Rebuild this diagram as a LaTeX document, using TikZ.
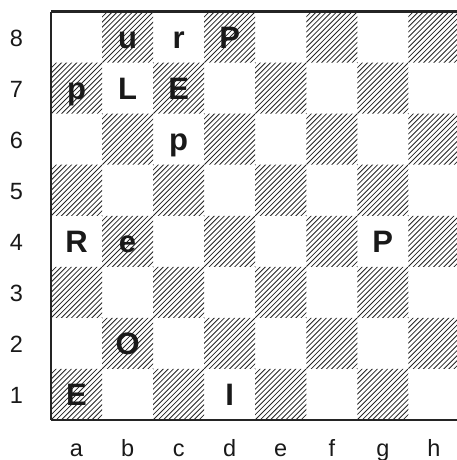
\documentclass[tikz,border=0pt]{standalone}
\usepackage{fontspec}
\setmainfont{Liberation Sans}
\begin{document}
\begin{tikzpicture}[x=1pt,y=1pt]

  % ---- sizing knobs ----
  \pgfmathsetlengthmacro{\CBsq}{51.05pt}   % square size
  \pgfmathsetlengthmacro{\CBx}{51pt}       % left edge of board
  \pgfmathsetlengthmacro{\CBy}{40pt}       % bottom edge of board
  \pgfmathsetlengthmacro{\CBgap}{5.1pt}    % hatch spacing along a rank
  \pgfmathsetlengthmacro{\CBbase}{9.5pt}   % centre of square to label baseline
  \pgfmathsetlengthmacro{\CBpbase}{11pt}   % centre of square to piece baseline

  % ---- derived geometry ----
  \pgfmathsetlengthmacro{\CBW}{8*\CBsq}
  \pgfmathsetlengthmacro{\CBtop}{\CBy + \CBW}
  \pgfmathsetlengthmacro{\CBright}{\CBx + \CBW}

  \definecolor{CBLine}{gray}{0.14}
  \definecolor{CBInk}{gray}{0.10}

  \tikzset{
    hatch/.style={CBLine, line width=0.8pt},
    lbl/.style={anchor=base, inner sep=0pt, text=CBInk, font=\fontsize{23.5}{28}\selectfont},
    piece/.style={lbl, font=\fontsize{31}{36}\selectfont\bfseries}
  }

  \useasboundingbox (0,0) rectangle (457,460);

  % ---- dark squares (hatched) ----
  \begin{scope}
    \clip \foreach \r [evaluate=\r as \fs using {int(1-mod(\r,2))}] in {1,...,8} {
      \foreach \k in {0,...,3} {
        ({\CBx+(\fs+2*\k)*\CBsq}, {\CBy+(\r-1)*\CBsq}) rectangle ++(\CBsq,\CBsq)
      }
    };
    \foreach \t in {-82,...,82}
      \draw[hatch] ({\CBx+\t*\CBgap}, \CBy) -- ++(\CBW,\CBW);
  \end{scope}

  % ---- borders ----
  \draw[CBLine, line width=2.4pt] (\CBx,\CBtop) -- (\CBright,\CBtop);
  \draw[CBLine, line width=2pt] (\CBx,\CBy) -- (\CBx,\CBtop);
  \draw[CBLine, line width=1.5pt] (\CBx,\CBy) -- (\CBright,\CBy);

  % ---- rank and file labels ----
  \foreach \r in {1,...,8}
    \node[lbl] (r\r) at (16.5pt, {\CBy+(\r-0.5)*\CBsq-\CBbase}) {\r};
  \foreach \f [count=\i from 0] in {a,b,c,d,e,f,g,h}
    \node[lbl] (f\f) at ({\CBx+(\i+0.5)*\CBsq}, 4pt) {\f};

  % ---- pieces ----
  \foreach \c/\f/\r/\p in {2/b/8/u, 3/c/8/r, 4/d/8/P,
                           1/a/7/p, 2/b/7/L, 3/c/7/E,
                           3/c/6/p,
                           1/a/4/R, 2/b/4/e, 7/g/4/P,
                           2/b/2/O,
                           1/a/1/E, 4/d/1/I}
    \node[piece] (p\f\r) at ({\CBx+(\c-0.5)*\CBsq}, {\CBy+(\r-0.5)*\CBsq-\CBpbase}) {\p};

\end{tikzpicture}
\end{document}
